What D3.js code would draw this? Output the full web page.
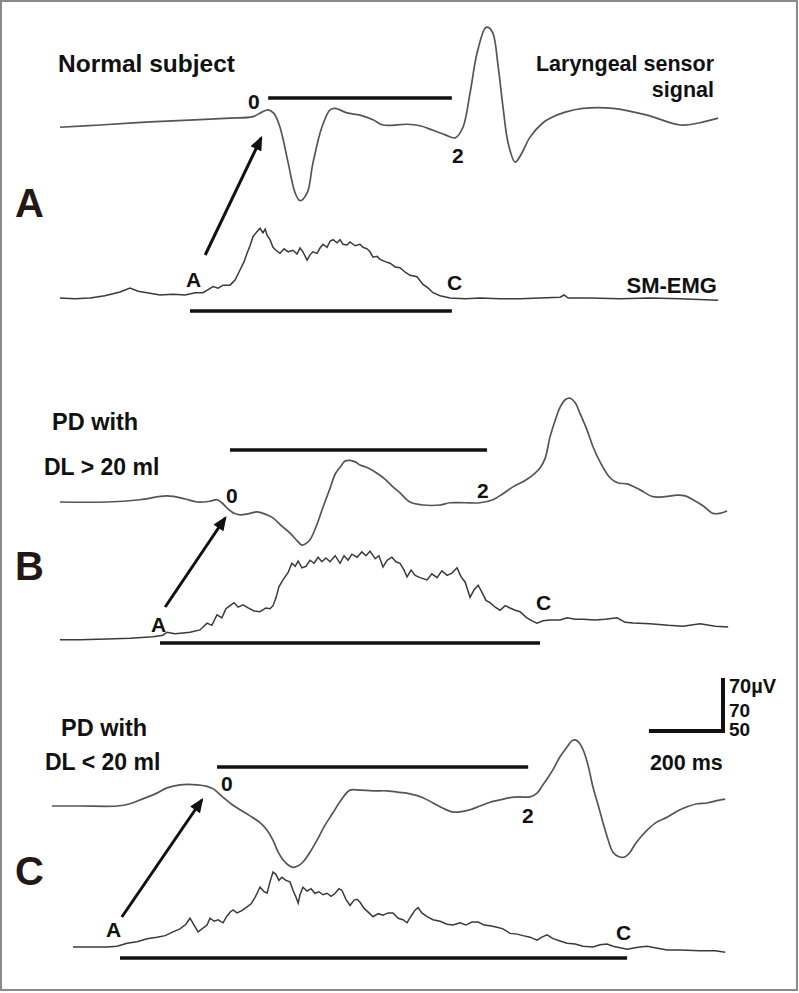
<!DOCTYPE html>
<html>
<head>
<meta charset="utf-8">
<script src="https://cdn.jsdelivr.net/npm/d3@7"></script>
<style>
  body { margin: 0; background: #fff; }
  svg { display: block; }
  text { font-family: "Liberation Sans", Arial, sans-serif; font-weight: bold; fill: #111; }
</style>
</head>
<body>
<div id="chart"></div>
<script>
// time in ms, amplitude in µV (relative to each trace's own baseline)

// Panel A - normal subject
const normalLaryngeal = [
  [0,-3],[108,0],[243,4],[378,7],[459,9],[521,11],[545,17],[562,20],[578,15],[594,-3],
  [616,-50],[635,-90],[648,-100],[667,-90],[683,-50],[707,-3],[729,20],[743,22],[775,16],
  [810,13],[845,7],[872,0],[937,1],[972,-1],[1007,-7],[1040,-13],[1067,-17],[1088,-3],
  [1107,42],[1126,95],[1148,128],[1156,129],[1169,121],[1183,77],[1196,24],[1210,-24],
  [1229,-49],[1247,-37],[1269,-16],[1304,3],[1323,9],[1364,17],[1412,22],[1493,22],
  [1585,13],[1674,0],[1728,3],[1777,9]
];
const normalEmg = [
  [0,0],[40,-1],[81,0],[121,3],[162,8],[189,13],[211,9],[235,7],[270,4],[305,5],[338,4],
  [365,7],[386,7],[400,11],[413,15],[427,13],[440,17],[459,17],[473,24],[486,37],[497,48],
  [505,59],[513,69],[521,81],[529,86],[540,92],[548,86],[554,91],[559,83],[567,77],[575,67],
  [583,63],[594,59],[605,65],[616,61],[629,63],[640,58],[648,66],[656,61],[667,50],[675,57],
  [683,61],[694,59],[702,66],[710,71],[721,67],[729,75],[737,77],[748,73],[756,77],[764,71],
  [775,70],[783,74],[797,69],[810,71],[818,67],[829,65],[837,61],[845,54],[856,55],[864,51],
  [878,48],[891,46],[905,41],[918,40],[932,34],[945,30],[964,28],[980,18],[994,13],[1007,7],
  [1026,3],[1053,0],[1094,-1],[1134,0],[1188,-1],[1242,-1],[1296,0],[1350,1],[1361,4],
  [1372,0],[1431,0],[1512,-1],[1593,0],[1674,-1],[1777,-3]
];

// Panel B - PD with DL > 20 ml
const pdHighLaryngeal = [
  [0,0],[127,0],[216,3],[289,8],[338,4],[370,0],[405,1],[424,3],[437,-1],[451,-8],[470,-15],
  [486,-17],[513,-15],[532,-13],[554,-16],[575,-21],[599,-32],[621,-41],[640,-51],[653,-57],
  [664,-55],[675,-50],[691,-33],[710,-7],[729,18],[743,37],[756,46],[770,54],[783,55],
  [797,53],[810,49],[832,45],[856,38],[878,30],[899,20],[918,12],[945,0],[980,-4],[1026,-4],
  [1053,-1],[1094,-1],[1134,-1],[1169,3],[1196,11],[1223,20],[1261,30],[1296,45],[1310,58],
  [1323,86],[1337,108],[1350,125],[1364,135],[1377,137],[1391,131],[1404,117],[1423,95],
  [1439,73],[1458,53],[1485,32],[1507,25],[1531,24],[1566,16],[1601,7],[1634,7],[1666,9],
  [1688,8],[1709,3],[1736,-5],[1763,-15],[1782,-15],[1801,-12]
];
const pdHighEmg = [
  [0,-1],[54,-1],[127,0],[189,1],[251,3],[278,5],[289,9],[310,7],[332,8],[351,9],[378,12],
  [397,21],[410,18],[424,32],[437,28],[448,40],[459,44],[470,48],[481,42],[494,45],[508,41],
  [524,37],[540,36],[556,41],[567,40],[575,44],[583,54],[591,69],[602,78],[616,88],[626,100],
  [635,96],[643,103],[653,94],[664,96],[675,104],[686,100],[697,108],[707,102],[718,107],
  [729,102],[743,110],[756,100],[767,110],[778,104],[788,112],[802,108],[815,115],[826,110],
  [837,116],[851,106],[861,110],[872,95],[883,104],[896,108],[907,102],[918,100],[929,91],
  [937,82],[948,91],[959,84],[972,81],[991,78],[1004,86],[1018,81],[1031,90],[1045,84],
  [1058,87],[1072,94],[1083,82],[1094,75],[1107,55],[1118,65],[1129,71],[1139,62],[1150,51],
  [1161,48],[1175,42],[1188,38],[1202,44],[1215,41],[1229,38],[1242,36],[1258,29],[1274,24],
  [1288,21],[1304,24],[1323,25],[1350,25],[1369,28],[1391,26],[1412,26],[1445,25],[1472,26],
  [1504,28],[1526,22],[1547,21],[1593,20],[1642,18],[1682,17],[1728,20],[1769,17],[1804,16]
];

// Panel C - PD with DL < 20 ml
const pdLowLaryngeal = [
  [-22,0],[54,0],[154,0],[189,3],[216,8],[257,16],[289,24],[324,28],[370,28],[397,26],
  [416,22],[432,15],[459,4],[486,-5],[513,-13],[540,-22],[559,-32],[575,-45],[589,-61],
  [602,-71],[616,-78],[629,-81],[643,-79],[656,-74],[675,-61],[694,-45],[716,-25],[737,-9],
  [759,8],[783,21],[810,21],[845,20],[883,20],[918,18],[945,16],[980,11],[1007,4],[1034,-3],
  [1061,-8],[1088,-7],[1107,-5],[1134,0],[1161,5],[1188,8],[1215,11],[1242,12],[1269,12],
  [1288,17],[1304,28],[1318,38],[1331,48],[1350,65],[1369,78],[1382,86],[1393,87],[1404,82],
  [1415,71],[1426,53],[1439,25],[1453,1],[1466,-22],[1480,-45],[1493,-61],[1509,-67],
  [1526,-67],[1539,-61],[1555,-49],[1585,-32],[1612,-21],[1639,-15],[1666,-7],[1693,-1],
  [1720,3],[1747,4],[1774,7],[1796,9]
];
const pdLowEmg = [
  [35,0],[81,0],[127,0],[154,1],[181,5],[208,7],[235,11],[262,13],[284,15],[305,20],[324,24],
  [340,30],[351,38],[362,29],[373,20],[386,25],[397,29],[405,38],[416,34],[427,36],[440,32],
  [451,41],[459,46],[467,49],[478,45],[491,48],[505,53],[516,57],[527,66],[535,74],[540,79],
  [551,73],[559,71],[567,86],[575,99],[583,96],[591,88],[599,92],[610,88],[621,86],[629,75],
  [637,66],[643,58],[648,69],[656,79],[667,74],[678,77],[688,71],[699,73],[710,69],[721,71],
  [732,67],[743,71],[753,77],[761,75],[772,63],[783,55],[794,62],[802,63],[810,59],[821,51],
  [832,46],[845,40],[859,44],[872,42],[886,45],[899,45],[913,38],[926,36],[937,32],[948,41],
  [959,49],[967,52],[977,45],[991,40],[1007,36],[1026,34],[1045,30],[1061,29],[1080,32],
  [1096,29],[1112,33],[1129,33],[1145,29],[1161,28],[1180,26],[1196,24],[1215,18],[1234,17],
  [1250,15],[1269,13],[1288,9],[1301,13],[1315,16],[1331,11],[1350,8],[1369,5],[1391,4],
  [1412,1],[1439,0],[1458,3],[1477,4],[1493,1],[1512,-1],[1531,-3],[1553,-1],[1566,0],
  [1585,1],[1606,-1],[1639,-4],[1674,-4],[1728,-5],[1769,-5],[1796,-7]
];

// interval bars: [start ms, end ms] for laryngeal (0 -> 2) and EMG (A -> C)
const laryngealBars = [[562, 1058], [459, 1153], [424, 1264]];
const emgBars = [[351, 1058], [270, 1296], [162, 1531]];
// arrow from EMG onset A to laryngeal 0: [start ms, end ms]
const arrowTimes = [[392, 543], [284, 446], [167, 383]];
const panelLetters = ["A", "B", "C"];
const scaleBarTime = 200;   // ms
const scaleBarAmp = 70;     // µV

const width = 799, height = 993;

const svg = d3.select("#chart").append("svg")
  .attr("width", width)
  .attr("height", height);

// frame
svg.append("rect")
  .attr("x", 1).attr("y", 1)
  .attr("width", width - 3).attr("height", height - 4)
  .attr("fill", "none")
  .attr("stroke", "#8a8a8a")
  .attr("stroke-width", 2);

const x = d3.scaleLinear().domain([0, 1800]).range([60, 726.7]);
// 70 µV = 53 px
const amp = d3.scaleLinear().domain([0, 70]).range([0, 53]);

const panels = [
  { lar: normalLaryngeal, emg: normalEmg, larBase: 125, emgBase: 298, barTop: 98, barBot: 311,
    arrowY: [255, 138], letterY: 217, lbl0: [248, 109], lbl2: [452, 163], lblA: [186, 287], lblC: [447, 290] },
  { lar: pdHighLaryngeal, emg: pdHighEmg, larBase: 502, emgBase: 639, barTop: 450, barBot: 643,
    arrowY: [607, 518], letterY: 580, lbl0: [226, 503], lbl2: [477, 498], lblA: [151, 632], lblC: [536, 610] },
  { lar: pdLowLaryngeal, emg: pdLowEmg, larBase: 806, emgBase: 947, barTop: 767, barBot: 958,
    arrowY: [917, 800], letterY: 885, lbl0: [221, 791], lbl2: [522, 823], lblA: [106, 937], lblC: [616, 940] }
];

svg.append("defs").append("marker")
  .attr("id", "head")
  .attr("viewBox", "0 0 12 10")
  .attr("refX", 10).attr("refY", 5)
  .attr("markerWidth", 5).attr("markerHeight", 4)
  .attr("orient", "auto")
  .append("path")
  .attr("d", "M0,0 L12,5 L0,10 Z")
  .attr("fill", "#111");

panels.forEach((p, i) => {
  const g = svg.append("g");

  const larLine = d3.line()
    .x(d => x(d[0]))
    .y(d => p.larBase - amp(d[1]))
    .curve(d3.curveCatmullRom);
  const emgLine = d3.line()
    .x(d => x(d[0]))
    .y(d => p.emgBase - amp(d[1]));

  g.append("path")
    .attr("d", larLine(p.lar))
    .attr("fill", "none")
    .attr("stroke", "#555")
    .attr("stroke-width", 1.7);

  g.append("path")
    .attr("d", emgLine(p.emg))
    .attr("fill", "none")
    .attr("stroke", "#3a3a3a")
    .attr("stroke-width", 1.5);

  // interval bars
  g.append("line")
    .attr("x1", x(laryngealBars[i][0])).attr("x2", x(laryngealBars[i][1]))
    .attr("y1", p.barTop).attr("y2", p.barTop)
    .attr("stroke", "#111").attr("stroke-width", 3.5);
  g.append("line")
    .attr("x1", x(emgBars[i][0])).attr("x2", x(emgBars[i][1]))
    .attr("y1", p.barBot).attr("y2", p.barBot)
    .attr("stroke", "#111").attr("stroke-width", 3.5);

  // arrow
  g.append("line")
    .attr("x1", x(arrowTimes[i][0])).attr("y1", p.arrowY[0])
    .attr("x2", x(arrowTimes[i][1])).attr("y2", p.arrowY[1])
    .attr("stroke", "#111").attr("stroke-width", 3)
    .attr("marker-end", "url(#head)");

  // marker labels
  [["0", p.lbl0], ["2", p.lbl2], ["A", p.lblA], ["C", p.lblC]].forEach(([t, pos]) => {
    g.append("text")
      .attr("x", pos[0]).attr("y", pos[1])
      .attr("font-size", 21)
      .text(t);
  });

  // panel letter
  g.append("text")
    .attr("x", 15).attr("y", p.letterY)
    .attr("font-size", 40)
    .style("fill", "#231815")
    .text(panelLetters[i]);
});

// titles
svg.append("text").attr("x", 58).attr("y", 72).attr("font-size", 24.5).text("Normal subject");
svg.append("text").attr("x", 714).attr("y", 71).attr("font-size", 21.5)
  .attr("text-anchor", "end").text("Laryngeal sensor");
svg.append("text").attr("x", 714).attr("y", 97).attr("font-size", 21.5)
  .attr("text-anchor", "end").text("signal");
svg.append("text").attr("x", 717).attr("y", 293).attr("font-size", 22)
  .attr("text-anchor", "end").text("SM-EMG");

svg.append("text").attr("x", 52).attr("y", 430).attr("font-size", 23.5).text("PD with");
svg.append("text").attr("x", 44).attr("y", 475).attr("font-size", 23).text("DL > 20 ml");
svg.append("text").attr("x", 61).attr("y", 736).attr("font-size", 23.5).text("PD with");
svg.append("text").attr("x", 45).attr("y", 770).attr("font-size", 23).text("DL < 20 ml");

// scale bar
const sbEnd = 1790;
const sbX0 = x(sbEnd - scaleBarTime), sbX1 = x(sbEnd);
const sbY = 731;
svg.append("path")
  .attr("d", `M${sbX0},${sbY} L${sbX1},${sbY} L${sbX1},${sbY - amp(scaleBarAmp)}`)
  .attr("fill", "none")
  .attr("stroke", "#111")
  .attr("stroke-width", 4);
svg.append("text").attr("x", sbX1 + 6).attr("y", 693).attr("font-size", 20).text(scaleBarAmp + "µV");
svg.append("text").attr("x", sbX1 + 6).attr("y", 717).attr("font-size", 19).text("70");
svg.append("text").attr("x", sbX1 + 6).attr("y", 736).attr("font-size", 19).text("50");
svg.append("text").attr("x", sbX0 + 1).attr("y", 770).attr("font-size", 21.5).text(scaleBarTime + " ms");
</script>
</body>
</html>
